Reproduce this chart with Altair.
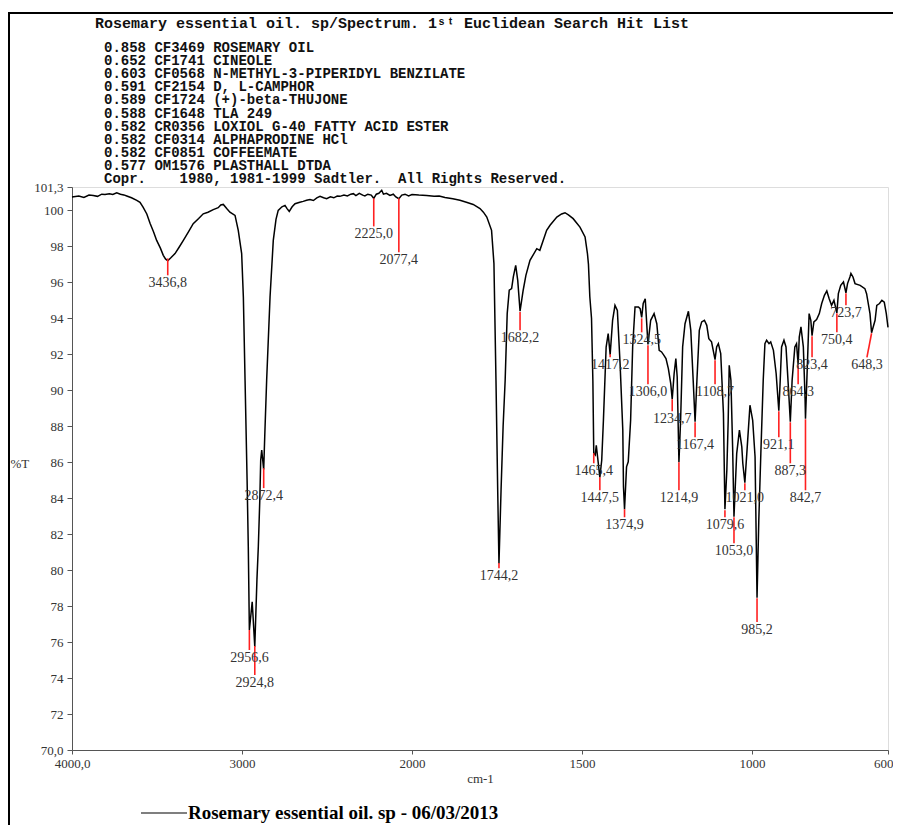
import altair as alt
import pandas as pd

# ---------------- data ----------------
wavenumber = [
    4000, 3960, 3930, 3900, 3875, 3850, 3825, 3806, 3780, 3760, 3737, 3715, 3695, 3678, 3650,
    3619, 3600, 3582, 3560, 3541, 3520, 3502, 3480, 3463, 3450, 3436.8, 3420, 3394, 3370, 3345,
    3315, 3287, 3255, 3228, 3200, 3169, 3140, 3125, 3110, 3090, 3071, 3041, 3022, 3002, 2992,
    2982, 2970, 2963, 2956.6, 2940, 2924.8, 2912, 2904, 2895, 2890, 2884, 2880, 2872.4, 2866, 2855,
    2835, 2816, 2800, 2787, 2765, 2747, 2735, 2722, 2705, 2688, 2660, 2640, 2620, 2600, 2580,
    2560, 2541, 2520, 2502, 2480, 2460, 2440, 2424, 2400, 2380, 2360, 2345, 2330, 2310, 2290,
    2277, 2260, 2240, 2225, 2210, 2195, 2185, 2178, 2168, 2150, 2130, 2110, 2095, 2077.4, 2060,
    2041, 2020, 2000, 1980, 1957, 1935, 1920, 1903, 1880, 1859, 1840, 1820, 1800, 1790, 1780,
    1766, 1759, 1753, 1748, 1744.2, 1738, 1732, 1726, 1720, 1714, 1707, 1702, 1695, 1689, 1682.2,
    1673, 1665, 1653, 1633, 1624, 1604, 1594, 1574, 1560, 1550, 1540, 1526, 1506, 1491, 1484,
    1481, 1477, 1472, 1468, 1465.4, 1461, 1458, 1453, 1447.5, 1442, 1437, 1429, 1423, 1417.2, 1410,
    1403, 1396, 1388, 1380, 1378, 1374.9, 1369, 1364, 1357, 1351, 1344, 1334, 1329, 1324.5, 1320,
    1314, 1306, 1298, 1288, 1280, 1273, 1266, 1259, 1253, 1246, 1239, 1234.7, 1229, 1224, 1220,
    1214.9, 1210, 1204, 1197, 1187, 1180, 1173, 1167.4, 1162, 1155, 1148, 1140, 1133, 1127, 1119,
    1108.7, 1104, 1099, 1092, 1084, 1079.6, 1074, 1070, 1067, 1062, 1057, 1053, 1045, 1037, 1030,
    1027, 1021, 1014, 1006, 998, 991, 985.2, 980, 974, 967, 962, 957, 950, 945, 937,
    929, 921.1, 917, 913, 906, 900, 893, 887.3, 882, 874, 869, 864.3, 861, 856, 849,
    844, 842.7, 837, 832, 827, 823.4, 818, 810, 802, 795, 787, 780, 773, 766, 759,
    750.4, 746, 739, 731, 723.7, 719, 712, 709, 703, 697, 682, 668, 663, 653, 648.3,
    638, 633, 625, 618, 611, 605, 600,
]
transmittance = [
    100.75, 100.80, 100.72, 100.85, 100.83, 100.78, 100.90, 100.88, 100.93, 100.88, 100.98, 100.90, 100.86, 100.80, 100.70,
    100.56, 100.45, 100.18, 99.80, 99.28, 98.80, 98.33, 97.90, 97.50, 97.30, 97.20, 97.35, 97.60, 97.95, 98.33,
    98.80, 99.26, 99.55, 99.81, 99.90, 100.04, 100.15, 100.30, 100.33, 100.10, 99.90, 99.72, 98.89, 97.60, 95.18,
    90.56, 85.00, 81.30, 76.67, 78.24, 75.74, 79.50, 81.30, 84.00, 86.11, 86.67, 86.30, 85.60, 87.50, 90.56,
    95.18, 98.33, 99.50, 100.00, 100.20, 100.28, 100.10, 99.94, 100.20, 100.37, 100.45, 100.50, 100.56, 100.60, 100.55,
    100.70, 100.78, 100.70, 100.65, 100.75, 100.70, 100.80, 100.78, 100.85, 100.80, 100.90, 100.93, 100.82, 100.95, 100.85,
    100.80, 100.90, 100.85, 100.67, 100.90, 100.95, 101.05, 101.12, 100.90, 100.95, 100.83, 100.90, 100.75, 100.65, 100.85,
    100.90, 100.80, 100.88, 100.85, 100.83, 100.78, 100.80, 100.72, 100.65, 100.56, 100.45, 100.33, 100.10, 99.90, 99.63,
    98.89, 97.04, 90.56, 84.50, 80.37, 84.50, 88.00, 90.56, 94.26, 95.56, 95.65, 96.30, 96.94, 96.11, 94.40,
    95.56, 96.39, 97.22, 97.87, 97.78, 98.89, 99.17, 99.63, 99.80, 99.87, 99.75, 99.54, 99.07, 98.52, 97.60,
    97.00, 95.20, 94.00, 90.50, 86.50, 86.40, 86.94, 86.10, 85.15, 86.11, 88.33, 92.40, 93.15, 91.98, 93.89,
    94.72, 94.44, 91.48, 87.78, 84.63, 83.38, 85.74, 86.02, 88.33, 92.41, 94.63, 94.63, 94.54, 94.05, 94.82,
    95.09, 92.55, 93.89, 94.26, 93.70, 92.22, 92.13, 91.94, 91.76, 91.20, 90.37, 89.50, 90.93, 91.76, 90.74,
    86.00, 88.33, 92.41, 93.70, 94.39, 93.33, 90.56, 88.25, 90.56, 93.33, 93.80, 93.89, 93.61, 92.87, 92.69,
    91.70, 92.41, 92.59, 92.04, 88.70, 83.38, 85.56, 88.33, 91.39, 90.56, 86.85, 82.97, 86.48, 87.78, 86.85,
    85.93, 84.86, 86.85, 89.17, 88.33, 86.30, 78.47, 82.78, 86.48, 90.56, 92.59, 92.78, 92.59, 92.69, 92.22,
    90.93, 88.86, 90.56, 92.41, 92.78, 92.41, 90.19, 88.25, 90.56, 92.41, 92.59, 91.42, 92.96, 93.52, 92.41,
    89.63, 88.42, 91.48, 94.26, 93.89, 93.03, 93.80, 93.93, 94.26, 94.82, 95.28, 95.52, 95.09, 94.72, 95.00,
    94.30, 95.37, 95.83, 96.02, 95.42, 95.93, 96.30, 96.50, 96.30, 95.93, 95.83, 95.65, 95.37, 94.26, 93.20,
    93.89, 94.72, 94.82, 95.00, 94.90, 94.26, 93.50,
]

peak_wn = [3436.8, 2225.0, 2077.4, 2956.6, 2924.8, 2872.4, 1744.2, 1682.2, 1465.4, 1447.5,
           1417.2, 1374.9, 1324.5, 1306.0, 1234.7, 1214.9, 1167.4, 1108.7, 1079.6, 1053.0,
           1021.0, 985.2, 921.1, 887.3, 864.3, 842.7, 823.4, 750.4, 723.7, 648.3]
peak_top = [97.33, 100.67, 100.67, 76.67, 75.78, 85.67, 80.39, 94.35, 86.50, 85.17,
            92.00, 83.39, 94.00, 92.50, 89.50, 86.00, 88.22, 91.67, 83.33, 82.94,
            84.83, 78.44, 88.83, 88.22, 91.39, 88.39, 93.00, 94.28, 95.39, 93.17]
peak_bottom = [96.39, 99.11, 97.67, 75.56, 74.17, 84.56, 80.11, 93.33, 85.94, 84.44,
               91.83, 82.94, 93.22, 90.33, 88.83, 84.44, 87.39, 90.33, 82.94, 81.50,
               84.44, 77.11, 87.39, 85.94, 90.33, 84.44, 91.83, 93.22, 94.72, 91.83]
peak_label_wn = [3436.8, 2225.0, 2077.4, 2956.6, 2924.8, 2872.4, 1744.2, 1682.2, 1465.4, 1447.5,
                 1417.2, 1374.9, 1324.5, 1306.0, 1234.7, 1214.9, 1167.4, 1108.7, 1079.6, 1053.0,
                 1021.0, 985.2, 921.1, 887.3, 864.3, 842.7, 823.4, 750.4, 723.7, 662.0]
peak_text = ["3436,8", "2225,0", "2077,4", "2956,6", "2924,8", "2872,4", "1744,2", "1682,2",
             "1465,4", "1447,5", "1417,2", "1374,9", "1324,5", "1306,0", "1234,7", "1214,9",
             "1167,4", "1108,7", "1079,6", "1053,0", "1021,0", "985,2", "921,1", "887,3",
             "864,3", "842,7", "823,4", "750,4", "723,7", "648,3"]

x_ticks = [4000, 3000, 2000, 1500, 1000, 600]
y_ticks = [70, 72, 74, 76, 78, 80, 82, 84, 86, 88, 90, 92, 94, 96, 98, 100, 101.3]

series_name = "Rosemary essential oil. sp - 06/03/2013"
header = "Rosemary essential oil. sp/Spectrum. 1\u02e2\u1d57 Euclidean Search Hit List"
hit_list = [
    "0.858 CF3469 ROSEMARY OIL",
    "0.652 CF1741 CINEOLE",
    "0.603 CF0568 N-METHYL-3-PIPERIDYL BENZILATE",
    "0.591 CF2154 D, L-CAMPHOR",
    "0.589 CF1724 (+)-beta-THUJONE",
    "0.588 CF1648 TLA 249",
    "0.582 CR0356 LOXIOL G-40 FATTY ACID ESTER",
    "0.582 CF0314 ALPHAPRODINE HCl",
    "0.582 CF0851 COFFEEMATE",
    "0.577 OM1576 PLASTHALL DTDA",
    "Copr.    1980, 1981-1999 Sadtler.  All Rights Reserved.",
]

# ---------------- tables ----------------
spec = pd.DataFrame({"wn": wavenumber, "T": transmittance, "series": series_name})
peaks = pd.DataFrame({"wn": peak_wn, "top": peak_top, "bottom": peak_bottom,
                      "lwn": peak_label_wn, "label": peak_text})
hits = pd.DataFrame({"row": list(range(len(hit_list))),
                     "line": [s.replace(" ", "\u00a0") for s in hit_list]})

W, H = 816, 563
xscale = alt.Scale(domain=[4000, 2000, 600], range=[0, 340, W], nice=False, zero=False)
yscale = alt.Scale(domain=[70, 101.3], nice=False, zero=False)

serif = "Liberation Serif"
mono = "Liberation Mono"

x_axis = alt.Axis(values=x_ticks, title="cm-1", grid=False,
                  labelExpr="datum.value == 4000 ? '4000,0' : datum.value == 600 ? '600,0' : '' + datum.value",
                  labelFont=serif, labelFontSize=13, labelColor="#333", labelPadding=3,
                  titleFont=serif, titleFontSize=13, titleFontWeight="normal", titleColor="#333",
                  titlePadding=2, tickSize=4, tickColor="#555", domainColor="#555",
                  labelOverlap=False, labelFlush=False, labelBound=False)
y_axis = alt.Axis(values=y_ticks, title="%T", grid=False,
                  labelExpr="datum.value == 70 ? '70,0' : datum.value == 101.3 ? '101,3' : '' + datum.value",
                  labelFont=serif, labelFontSize=13, labelColor="#333", labelPadding=4,
                  titleFont=serif, titleFontSize=13, titleFontWeight="normal", titleColor="#333",
                  titleAngle=0, titleAlign="left", titleBaseline="middle", titleX=-62, titleY=276,
                  tickSize=5, tickColor="#555", domainColor="#555",
                  labelOverlap=False, labelFlush=False, labelBound=False)

line = alt.Chart(spec).mark_line(strokeWidth=1.5, interpolate="linear").encode(
    x=alt.X("wn:Q", scale=xscale, axis=x_axis),
    y=alt.Y("T:Q", scale=yscale, axis=y_axis),
    color=alt.Color("series:N", scale=alt.Scale(range=["black"]),
                    legend=alt.Legend(title=None, orient="none", legendX=68, legendY=602,
                                      symbolType="stroke", symbolSize=2116, symbolStrokeWidth=1.2,
                                      symbolStrokeColor="#222", labelFont=serif, labelFontSize=19,
                                      labelFontWeight="bold", labelColor="black", labelOffset=0,
                                      padding=0, labelLimit=600)),
    order=alt.Order("wn:Q", sort="descending"),
)

rules = alt.Chart(peaks).mark_rule(color="#ff2020", strokeWidth=1.6).encode(
    x=alt.X("wn:Q", scale=xscale, axis=x_axis),
    x2="lwn:Q",
    y=alt.Y("top:Q", scale=yscale, axis=None),
    y2="bottom:Q",
)

labels = alt.Chart(peaks).mark_text(font=serif, fontSize=14, color="#333",
                                    baseline="top", align="center", dy=1).encode(
    x=alt.X("lwn:Q", scale=xscale, axis=x_axis),
    y=alt.Y("bottom:Q", scale=yscale, axis=None),
    text="label:N",
)

hit_text = alt.Chart(hits).mark_text(font=mono, fontSize=14, fontWeight="bold", color="#111",
                                     align="left", baseline="middle").encode(
    x=alt.value(32),
    y=alt.Y("row:Q", scale=alt.Scale(domain=[0, 10], range=[-139, -8], nice=False, zero=False),
            axis=None),
    text="line:N",
)

one = pd.DataFrame({"k": [0]})
head_text = alt.Chart(one).mark_text(font=mono, fontSize=15, fontWeight="bold", color="#111",
                                     align="left", baseline="middle").encode(
    x=alt.value(23), y=alt.value(-164), text=alt.value(header.replace(" ", "\u00a0")))

frame_top = alt.Chart(one).mark_rule(color="black", strokeWidth=2).encode(
    x=alt.value(-64), x2=alt.value(W + 6), y=alt.value(-174))
frame_left = alt.Chart(one).mark_rule(color="black", strokeWidth=2).encode(
    x=alt.value(-63), y=alt.value(-175), y2=alt.value(H + 80))

chart = alt.layer(frame_top, frame_left, head_text, hit_text, line, rules, labels).resolve_scale(
    y="independent"
).properties(
    width=W, height=H,
    autosize=alt.AutoSizeParams(type="none"),
    padding={"left": 64, "top": 179, "right": 5, "bottom": 75},
).configure_view(strokeWidth=0).configure(background="white")

chart.save("out.html", embed_options={"renderer": "svg", "actions": False})
